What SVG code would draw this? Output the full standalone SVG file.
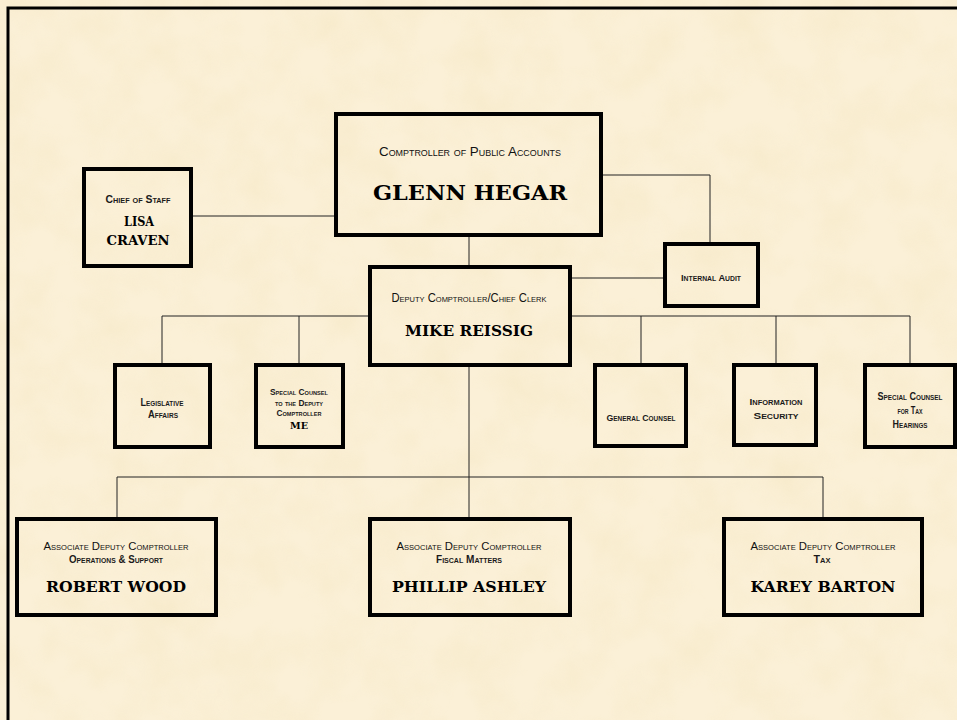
<svg xmlns="http://www.w3.org/2000/svg" width="957" height="720" viewBox="0 0 957 720">
<defs>
<filter id="paper" x="0" y="0" width="957" height="720" filterUnits="userSpaceOnUse">
<feTurbulence type="fractalNoise" baseFrequency="0.022" numOctaves="3" seed="7"/>
<feColorMatrix type="matrix" values="0 0 0 0 0.88  0 0 0 0 0.76  0 0 0 0 0.48  0.8 0 0 0 -0.28"/>
</filter>
<style>
.box{fill:none;stroke:#000;stroke-width:4}
.ln{fill:none;stroke:#222;stroke-width:1}
.t{font-family:"Liberation Sans",Arial,sans-serif;font-variant:small-caps;fill:#111;text-anchor:middle}
.tb{font-family:"Liberation Sans",Arial,sans-serif;font-variant:small-caps;font-weight:bold;fill:#1a1a1a;text-anchor:middle}
.n{font-family:"DejaVu Serif","Liberation Serif",serif;font-weight:bold;fill:#000;text-anchor:middle}
</style>
</defs>
<rect x="0" y="0" width="957" height="720" fill="#FBF0D7"/>
<rect x="0" y="0" width="957" height="720" filter="url(#paper)" opacity="0.75"/>
<rect x="8" y="8" width="1000" height="800" fill="none" stroke="#000" stroke-width="3"/>

<g id="connectors">
<path class="ln" d="M193,216H336"/>
<path class="ln" d="M603,175H710V244"/>
<path class="ln" d="M572,278H665"/>
<path class="ln" d="M469,236V267"/>
<path class="ln" d="M162,316H370M572,316H910"/>
<path class="ln" d="M162,316V365M299,316V365M641,316V365M776,316V365M910,316V365"/>
<path class="ln" d="M469,367V477"/>
<path class="ln" d="M117,477H823M117,477V519M469,477V519M823,477V519"/>
</g>

<g id="comptroller">
<rect class="box" x="336" y="114" width="265" height="121"/>
<text class="t" x="470" y="156" font-size="13.5" textLength="182" lengthAdjust="spacingAndGlyphs">Comptroller of Public Accounts</text>
<text class="n" x="470" y="200" font-size="21" textLength="194" lengthAdjust="spacingAndGlyphs">GLENN HEGAR</text>
</g>

<g id="chief-of-staff">
<rect class="box" x="84" y="169" width="107" height="97"/>
<text class="tb" x="138" y="203" font-size="10" textLength="65" lengthAdjust="spacingAndGlyphs">Chief of Staff</text>
<text class="n" x="139" y="226" font-size="12" textLength="30" lengthAdjust="spacingAndGlyphs">LISA</text>
<text class="n" x="138" y="245" font-size="12" textLength="63" lengthAdjust="spacingAndGlyphs">CRAVEN</text>
</g>

<g id="deputy">
<rect class="box" x="370" y="267" width="200" height="98"/>
<text class="t" x="469" y="302" font-size="12" textLength="155" lengthAdjust="spacingAndGlyphs">Deputy Comptroller/Chief Clerk</text>
<text class="n" x="469" y="336" font-size="15" textLength="128" lengthAdjust="spacingAndGlyphs">MIKE REISSIG</text>
</g>

<g id="internal-audit">
<rect class="box" x="665" y="244" width="93" height="62"/>
<text class="tb" x="711" y="281" font-size="9.5" textLength="60" lengthAdjust="spacingAndGlyphs">Internal Audit</text>
</g>

<g id="legislative">
<rect class="box" x="115" y="365" width="95" height="82"/>
<text class="tb" x="162" y="406" font-size="10" textLength="43" lengthAdjust="spacingAndGlyphs">Legislative</text>
<text class="tb" x="163" y="418" font-size="10" textLength="30" lengthAdjust="spacingAndGlyphs">Affairs</text>
</g>

<g id="special-counsel-deputy">
<rect class="box" x="256" y="365" width="87" height="82"/>
<text class="tb" x="299" y="395" font-size="9" textLength="58" lengthAdjust="spacingAndGlyphs">Special Counsel</text>
<text class="tb" x="299" y="406" font-size="9" textLength="48" lengthAdjust="spacingAndGlyphs">to the Deputy</text>
<text class="tb" x="299" y="416" font-size="9" textLength="45" lengthAdjust="spacingAndGlyphs">Comptroller</text>
<text class="n" x="299" y="429" font-size="10" textLength="18" lengthAdjust="spacingAndGlyphs">ME</text>
</g>

<g id="general-counsel">
<rect class="box" x="595" y="365" width="91" height="81"/>
<text class="tb" x="641" y="421" font-size="9.5" textLength="69" lengthAdjust="spacingAndGlyphs">General Counsel</text>
</g>

<g id="information-security">
<rect class="box" x="734" y="365" width="82" height="80"/>
<text class="tb" x="776" y="405" font-size="9.5" textLength="53" lengthAdjust="spacingAndGlyphs">Information</text>
<text class="tb" x="776" y="419" font-size="9.5" textLength="45" lengthAdjust="spacingAndGlyphs">Security</text>
</g>

<g id="special-counsel-tax">
<rect class="box" x="865" y="365" width="90" height="82"/>
<text class="tb" x="910" y="400" font-size="10" textLength="65" lengthAdjust="spacingAndGlyphs">Special Counsel</text>
<text class="tb" x="910" y="414" font-size="10" textLength="25" lengthAdjust="spacingAndGlyphs">for Tax</text>
<text class="tb" x="910" y="428" font-size="10" textLength="35" lengthAdjust="spacingAndGlyphs">Hearings</text>
</g>

<g id="operations-support">
<rect class="box" x="17" y="519" width="199" height="96"/>
<text class="t" x="116" y="550" font-size="10.5" textLength="145" lengthAdjust="spacingAndGlyphs">Associate Deputy Comptroller</text>
<text class="tb" x="116" y="563" font-size="10" textLength="94" lengthAdjust="spacingAndGlyphs">Operations &amp; Support</text>
<text class="n" x="116" y="592" font-size="14" textLength="140" lengthAdjust="spacingAndGlyphs">ROBERT WOOD</text>
</g>

<g id="fiscal-matters">
<rect class="box" x="370" y="519" width="200" height="96"/>
<text class="t" x="469" y="550" font-size="10.5" textLength="145" lengthAdjust="spacingAndGlyphs">Associate Deputy Comptroller</text>
<text class="tb" x="469" y="563" font-size="10" textLength="66" lengthAdjust="spacingAndGlyphs">Fiscal Matters</text>
<text class="n" x="469" y="592" font-size="14" textLength="154" lengthAdjust="spacingAndGlyphs">PHILLIP ASHLEY</text>
</g>

<g id="tax">
<rect class="box" x="724" y="519" width="198" height="96"/>
<text class="t" x="823" y="550" font-size="10.5" textLength="145" lengthAdjust="spacingAndGlyphs">Associate Deputy Comptroller</text>
<text class="tb" x="822" y="563" font-size="10" textLength="17" lengthAdjust="spacingAndGlyphs">Tax</text>
<text class="n" x="823" y="592" font-size="14" textLength="145" lengthAdjust="spacingAndGlyphs">KAREY BARTON</text>
</g>
</svg>
